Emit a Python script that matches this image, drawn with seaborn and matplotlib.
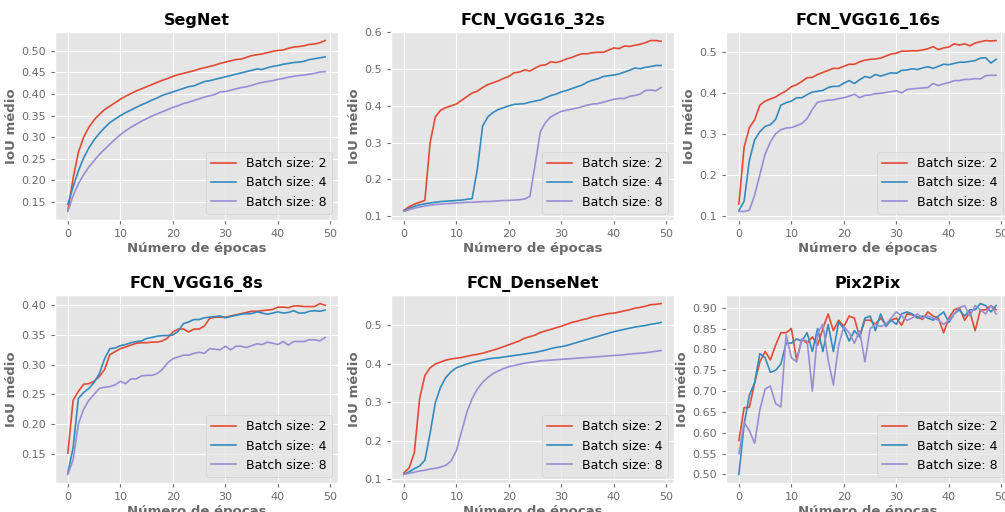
import matplotlib
matplotlib.use("Agg")
import matplotlib.pyplot as plt
import seaborn as sns
import pandas as pd
from matplotlib.ticker import MultipleLocator, FormatStrFormatter


EPOCHS = list(range(50))
BATCH_LABELS = ["Batch size: 2", "Batch size: 4", "Batch size: 8"]
COLORS = ["#E24A33", "#348ABD", "#988ED5"]

SEGNET_B2 = [.130, .205, .265, .300, .323, .340, .353, .364, .372, .380,
             .388, .395, .401, .407, .412, .417, .422, .427, .432, .436,
             .441, .445, .448, .451, .454, .458, .461, .464, .467, .471,
             .474, .477, .480, .481, .485, .489, .491, .493, .496, .499,
             .501, .502, .506, .509, .510, .512, .515, .516, .519, .524]
SEGNET_B4 = [.145, .185, .222, .252, .275, .294, .309, .322, .334, .342,
             .350, .357, .363, .369, .375, .380, .386, .391, .397, .401,
             .405, .409, .413, .417, .419, .424, .429, .431, .434, .437,
             .440, .443, .446, .449, .452, .455, .458, .457, .461, .464,
             .466, .469, .471, .473, .474, .476, .480, .482, .484, .486]
SEGNET_B8 = [.128, .165, .192, .213, .231, .246, .260, .272, .284, .295,
             .306, .315, .323, .330, .337, .343, .349, .354, .359, .364,
             .369, .373, .378, .381, .385, .389, .393, .396, .399, .405,
             .406, .409, .412, .415, .417, .420, .424, .427, .429, .431,
             .434, .436, .439, .441, .443, .444, .446, .448, .451, .452]

VGG32_B2 = [.115, .125, .132, .137, .142, .300, .370, .388, .395, .400,
            .405, .415, .425, .435, .440, .450, .458, .463, .468, .475,
            .480, .490, .492, .498, .495, .503, .510, .512, .520, .518,
            .522, .528, .532, .538, .542, .542, .545, .546, .546, .552,
            .558, .556, .563, .562, .565, .568, .572, .578, .578, .576]
VGG32_B4 = [.113, .120, .126, .130, .133, .135, .137, .139, .140, .141,
            .142, .143, .145, .147, .228, .345, .370, .382, .390, .395,
            .400, .404, .405, .406, .410, .413, .416, .422, .428, .432,
            .438, .442, .447, .452, .457, .465, .470, .474, .480, .482,
            .484, .487, .492, .497, .503, .501, .505, .507, .510, .510]
VGG32_B8 = [.112, .117, .121, .124, .127, .129, .131, .132, .133, .134,
            .135, .136, .137, .137, .138, .139, .139, .140, .141, .142,
            .142, .143, .144, .146, .153, .240, .330, .355, .370, .378,
            .385, .388, .391, .394, .398, .402, .405, .406, .410, .414,
            .418, .420, .420, .426, .428, .432, .442, .443, .441, .450]

VGG16_B2 = [.128, .267, .315, .334, .370, .380, .385, .390, .398, .405,
            .415, .420, .428, .437, .438, .445, .450, .455, .460, .460,
            .465, .470, .470, .476, .480, .482, .483, .485, .490, .495,
            .497, .502, .502, .503, .503, .505, .508, .513, .506, .510,
            .512, .520, .517, .520, .515, .522, .525, .528, .527, .528]
VGG16_B4 = [.112, .135, .235, .285, .305, .318, .322, .335, .370, .376,
            .380, .388, .388, .396, .402, .404, .406, .413, .416, .416,
            .424, .430, .423, .432, .440, .437, .445, .441, .445, .449,
            .448, .455, .456, .459, .457, .461, .464, .460, .465, .470,
            .469, .472, .475, .475, .477, .479, .485, .486, .473, .482]
VGG16_B8 = [.110, .110, .113, .150, .200, .250, .280, .300, .310, .314,
            .315, .320, .325, .337, .360, .377, .380, .382, .383, .386,
            .388, .392, .397, .388, .394, .395, .398, .399, .401, .403,
            .405, .400, .408, .410, .411, .412, .413, .423, .418, .422,
            .425, .430, .430, .433, .433, .435, .434, .442, .443, .443]

VGG8_B2 = [.151, .240, .255, .267, .268, .272, .280, .292, .317, .322,
           .327, .330, .333, .336, .337, .337, .338, .338, .340, .345,
           .355, .360, .360, .355, .360, .360, .365, .378, .380, .380,
           .380, .382, .384, .386, .388, .390, .390, .391, .392, .393,
           .397, .397, .396, .399, .399, .398, .398, .398, .403, .400]
VGG8_B4 = [.118, .160, .243, .253, .260, .270, .285, .310, .327, .328,
           .332, .334, .337, .339, .340, .344, .346, .348, .349, .349,
           .350, .356, .369, .372, .376, .376, .379, .380, .381, .382,
           .379, .381, .383, .385, .386, .386, .389, .387, .385, .387,
           .389, .387, .388, .391, .387, .387, .390, .391, .390, .392]
VGG8_B8 = [.115, .140, .200, .225, .240, .250, .260, .262, .263, .266,
           .272, .268, .276, .276, .281, .282, .282, .285, .292, .303,
           .310, .313, .316, .316, .319, .321, .319, .327, .326, .325,
           .331, .325, .331, .331, .329, .332, .335, .334, .338, .336,
           .334, .339, .333, .339, .339, .339, .342, .342, .340, .346]

DENSE_B2 = [.117, .130, .170, .310, .370, .390, .400, .405, .410, .413,
            .415, .417, .420, .423, .425, .428, .432, .436, .440, .445,
            .450, .455, .460, .467, .471, .475, .482, .486, .490, .494,
            .498, .503, .508, .511, .515, .518, .523, .525, .528, .531,
            .532, .535, .538, .541, .545, .547, .550, .554, .555, .557]
DENSE_B4 = [.113, .120, .128, .135, .150, .220, .300, .340, .365, .380,
            .390, .395, .400, .404, .407, .410, .413, .415, .416, .418,
            .420, .422, .424, .426, .428, .430, .433, .436, .440, .443,
            .445, .448, .452, .456, .460, .464, .468, .472, .476, .480,
            .484, .487, .490, .493, .496, .498, .500, .503, .505, .508]
DENSE_B8 = [.113, .116, .119, .122, .124, .127, .129, .132, .137, .148,
            .175, .225, .275, .310, .335, .352, .365, .375, .382, .388,
            .393, .396, .399, .402, .404, .406, .408, .409, .410, .411,
            .412, .413, .414, .415, .416, .417, .418, .419, .420, .421,
            .422, .423, .424, .426, .427, .428, .429, .431, .433, .435]

PIX_B2 = [.581, .660, .661, .720, .770, .795, .775, .810, .840, .840,
          .850, .775, .825, .815, .830, .810, .850, .885, .845, .870,
          .855, .880, .875, .830, .870, .870, .860, .875, .860, .870,
          .875, .858, .885, .883, .878, .872, .890, .880, .875, .840,
          .875, .895, .900, .870, .890, .845, .895, .895, .905, .895]
PIX_B4 = [.500, .620, .690, .720, .790, .780, .745, .750, .765, .815,
          .815, .825, .820, .840, .795, .850, .795, .860, .795, .865,
          .850, .820, .845, .830, .875, .880, .845, .885, .855, .870,
          .860, .885, .890, .885, .875, .880, .875, .870, .880, .890,
          .865, .885, .895, .880, .895, .895, .910, .905, .890, .905]
PIX_B8 = [.550, .625, .605, .575, .655, .705, .712, .670, .662, .835,
          .780, .770, .825, .820, .700, .840, .860, .775, .715, .810,
          .855, .840, .815, .845, .770, .850, .860, .855, .860, .875,
          .890, .880, .870, .875, .885, .875, .880, .875, .870, .860,
          .870, .885, .900, .905, .880, .905, .895, .885, .905, .885]

PANELS = [
    ("SegNet", [SEGNET_B2, SEGNET_B4, SEGNET_B8]),
    ("FCN_VGG16_32s", [VGG32_B2, VGG32_B4, VGG32_B8]),
    ("FCN_VGG16_16s", [VGG16_B2, VGG16_B4, VGG16_B8]),
    ("FCN_VGG16_8s", [VGG8_B2, VGG8_B4, VGG8_B8]),
    ("FCN_DenseNet", [DENSE_B2, DENSE_B4, DENSE_B8]),
    ("Pix2Pix", [PIX_B2, PIX_B4, PIX_B8]),
]
# y tick step per panel, as in the reference
Y_STEPS = [0.05, 0.1, 0.1, 0.05, 0.1, 0.05]

# pixel boxes of the crop (left, top), every axes is 283x188 px
LEFTS = [55, 391, 726]
TOPS = [32, 295]
W, H = 1005, 512
AX_W, AX_H = 283, 188
LABEL_COLOR = "#6a6a6a"


def to_frame(series):
    rows = []
    for label, values in zip(BATCH_LABELS, series):
        for epoch, v in zip(EPOCHS, values):
            rows.append({"epoch": epoch, "iou": v, "batch": label})
    return pd.DataFrame(rows)


def plot_panel(ax, title, series, ystep):
    df = to_frame(series)
    sns.lineplot(df, x="epoch", y="iou", hue="batch", palette=COLORS,
                 linewidth=1.2, ax=ax)
    ax.set_title(title, fontsize=11.5, fontweight="bold", color="black", pad=5)
    ax.set_xlabel("Número de épocas", fontsize=9.5, fontweight="bold",
                  color=LABEL_COLOR, labelpad=2)
    ax.set_ylabel("IoU médio", fontsize=9.5, fontweight="bold",
                  color=LABEL_COLOR, labelpad=2)
    ax.set_xticks([0, 10, 20, 30, 40, 50])
    ax.yaxis.set_major_locator(MultipleLocator(ystep))
    ax.yaxis.set_major_formatter(
        FormatStrFormatter("%.2f" if ystep < 0.1 else "%.1f"))
    ax.tick_params(labelsize=8, colors=LABEL_COLOR, length=3)
    sns.move_legend(ax, "lower right", title=None, fontsize=9)


plt.style.use("ggplot")
fig = plt.figure(figsize=(W / 100, H / 100), dpi=100)

for i, (title, series) in enumerate(PANELS):
    left = LEFTS[i % 3]
    top = TOPS[i // 3]
    ax = fig.add_axes([left / W, (H - top - AX_H) / H, AX_W / W, AX_H / H])
    plot_panel(ax, title, series, Y_STEPS[i])

fig.savefig("out.png", dpi=100)
